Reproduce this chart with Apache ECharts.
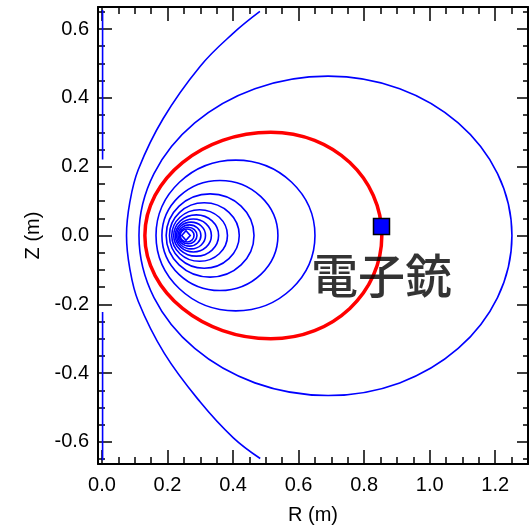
<!DOCTYPE html>
<html>
<head>
<meta charset="utf-8">
<script src="https://cdn.jsdelivr.net/npm/echarts@6/dist/echarts.min.js"></script>
<style>
  html, body { margin: 0; padding: 0; background: #fff; }
  #chart { width: 529px; height: 530px; }
</style>
</head>
<body>
<div id="chart"></div>
<script>
// Axis ranges and tick positions (metres)
const rRange = [-0.012, 1.30];
const zRange = [-0.664, 0.664];
const rMajorTicks = [0.0, 0.2, 0.4, 0.6, 0.8, 1.0, 1.2];
const rMinorTicks = [0.05, 0.1, 0.15, 0.25, 0.3, 0.35, 0.45, 0.5, 0.55, 0.65, 0.7, 0.75,
                     0.85, 0.9, 0.95, 1.05, 1.1, 1.15, 1.25];
const zMajorTicks = [-0.6, -0.4, -0.2, 0.0, 0.2, 0.4, 0.6];
const zMinorTicks = [-0.65, -0.55, -0.5, -0.45, -0.35, -0.3, -0.25, -0.15, -0.1, -0.05,
                     0.05, 0.1, 0.15, 0.25, 0.3, 0.35, 0.45, 0.5, 0.55, 0.65];

// Nested closed flux surfaces around the magnetic axis:
// inboard edge R, outboard edge R, R of the top point, half height Z
const ringInner  = [0.165, 0.183, 0.196, 0.206, 0.213, 0.219, 0.224, 0.228, 0.232, 0.236, 0.239];
const ringOuter  = [0.650, 0.537, 0.464, 0.419, 0.383, 0.356, 0.334, 0.316, 0.302, 0.290, 0.281];
const ringTopR   = [0.408, 0.360, 0.330, 0.312, 0.298, 0.288, 0.279, 0.272, 0.267, 0.263, 0.260];
const ringHalfZ  = [0.219, 0.160, 0.121, 0.095, 0.075, 0.060, 0.048, 0.039, 0.031, 0.024, 0.019];

// Innermost contour next to the magnetic axis
const coreLoop = [[0.2435, 0], [0.2565, 0.014], [0.2695, 0], [0.2565, -0.014]];

// Outermost closed flux surface
const outerSurface = [[0.113, 0], [0.690, 0.463], [1.251, 0], [0.690, -0.465]];

// Flux surface passing through the electron gun
const gunSurface = [[0.131, 0], [0.515, 0.300], [0.854, 0], [0.515, -0.300]];

// Open field line outside the closed surfaces
const openFieldLine = [
  [0.482, 0.651], [0.401, 0.588], [0.300, 0.492], [0.187, 0.340], [0.111, 0.192],
  [0.085, 0.096], [0.075, 0.000], [0.085, -0.096], [0.111, -0.192], [0.190, -0.342],
  [0.300, -0.484], [0.401, -0.588], [0.483, -0.648]
];

// Centre conductor segments
const rodUpper = [[0.002, 0.655], [0.002, 0.221]];
const rodLower = [[0.002, -0.222], [0.002, -0.653]];

// Electron gun position and its caption
const gunPosition = [[0.853, 0.026]];
const gunCaption = { text: '電子銃', at: [0.853, -0.115] };

const BLUE = '#0000ff';
const RED = '#ff0000';
const FONT = '"Liberation Sans", Arial, sans-serif';

const chart = echarts.init(document.getElementById('chart'), null, { renderer: 'canvas' });

function curveShape(kind, points, api, color, width, smooth) {
  return {
    type: kind,
    shape: { points: points.map(p => api.coord(p)), smooth: smooth },
    style: { fill: 'none', stroke: color, lineWidth: width }
  };
}

function ringPoints(i) {
  return [
    [ringInner[i], 0],
    [ringTopR[i], ringHalfZ[i]],
    [ringOuter[i], 0],
    [ringTopR[i], -ringHalfZ[i]]
  ];
}

function xAxisDef(position, ticks, len, withLabels, withLine) {
  return {
    type: 'value', position: position, min: rRange[0], max: rRange[1],
    axisLine: { show: withLine, onZero: false, lineStyle: { color: '#000', width: 2 } },
    axisTick: { show: true, inside: true, length: len, customValues: ticks,
                lineStyle: { color: '#000', width: 1.5 } },
    axisLabel: withLabels ? {
      show: true, customValues: ticks, margin: 11, fontSize: 20, color: '#000',
      fontFamily: FONT, formatter: v => v.toFixed(1)
    } : { show: false },
    splitLine: { show: false },
    name: withLabels ? 'R (m)' : '', nameLocation: 'middle', nameGap: 41,
    nameTextStyle: { fontSize: 20, color: '#000', fontFamily: FONT }
  };
}

function yAxisDef(position, ticks, len, withLabels, withLine) {
  return {
    type: 'value', position: position, min: zRange[0], max: zRange[1],
    axisLine: { show: withLine, onZero: false, lineStyle: { color: '#000', width: 2 } },
    axisTick: { show: true, inside: true, length: len, customValues: ticks,
                lineStyle: { color: '#000', width: 1.5 } },
    axisLabel: withLabels ? {
      show: true, customValues: ticks, margin: 9, fontSize: 20, color: '#000',
      fontFamily: FONT, formatter: v => v.toFixed(1)
    } : { show: false },
    splitLine: { show: false },
    name: withLabels ? 'Z (m)' : '', nameLocation: 'middle', nameRotate: 90, nameGap: 53,
    nameTextStyle: { fontSize: 20, color: '#000', fontFamily: FONT }
  };
}

const option = {
  animation: false,
  backgroundColor: '#fff',
  grid: { left: 98, right: 1, top: 7, bottom: 65, containLabel: false },
  xAxis: [
    xAxisDef('bottom', rMajorTicks, 14, true, true),
    xAxisDef('bottom', rMinorTicks, 7, false, false),
    xAxisDef('top', rMajorTicks, 14, false, true),
    xAxisDef('top', rMinorTicks, 7, false, false)
  ],
  yAxis: [
    yAxisDef('left', zMajorTicks, 14, true, true),
    yAxisDef('left', zMinorTicks, 7, false, false),
    yAxisDef('right', zMajorTicks, 11, false, true),
    yAxisDef('right', zMinorTicks, 5, false, false)
  ],
  series: [
    {
      type: 'custom', silent: true,
      data: [[openFieldLine[0][0], openFieldLine[0][1]]],
      renderItem: (params, api) => curveShape('polyline', openFieldLine, api, BLUE, 1.6, 0.4)
    },
    {
      type: 'line', data: rodUpper, showSymbol: false,
      lineStyle: { color: BLUE, width: 1.6 }, silent: true
    },
    {
      type: 'line', data: rodLower, showSymbol: false,
      lineStyle: { color: BLUE, width: 1.6 }, silent: true
    },
    {
      type: 'custom', silent: true,
      data: ringInner.map((r, i) => [r, 0, i]),
      renderItem: (params, api) => curveShape('polygon', ringPoints(params.dataIndex), api, BLUE, 1.6, 0.55)
    },
    {
      type: 'custom', silent: true,
      data: [[coreLoop[0][0], 0]],
      renderItem: (params, api) => curveShape('polygon', coreLoop, api, BLUE, 1.6, 0)
    },
    {
      type: 'custom', silent: true,
      data: [[outerSurface[0][0], 0]],
      renderItem: (params, api) => curveShape('polygon', outerSurface, api, BLUE, 1.6, 0.55)
    },
    {
      type: 'custom', silent: true,
      data: [[gunSurface[0][0], 0]],
      renderItem: (params, api) => curveShape('polygon', gunSurface, api, RED, 3.5, 0.55)
    },
    {
      type: 'scatter', data: gunPosition, symbol: 'rect', symbolSize: 16,
      itemStyle: { color: BLUE, borderColor: '#000', borderWidth: 1.5, opacity: 1 },
      silent: true, z: 5
    },
    {
      type: 'scatter', data: [gunCaption.at], symbolSize: 1,
      itemStyle: { color: 'transparent' }, silent: true, z: 6,
      label: {
        show: true, position: 'inside', formatter: gunCaption.text,
        fontSize: 47, fontWeight: 500, color: '#000',
        fontFamily: '"Noto Sans CJK JP", sans-serif'
      }
    }
  ]
};

chart.setOption(option);
</script>
</body>
</html>
